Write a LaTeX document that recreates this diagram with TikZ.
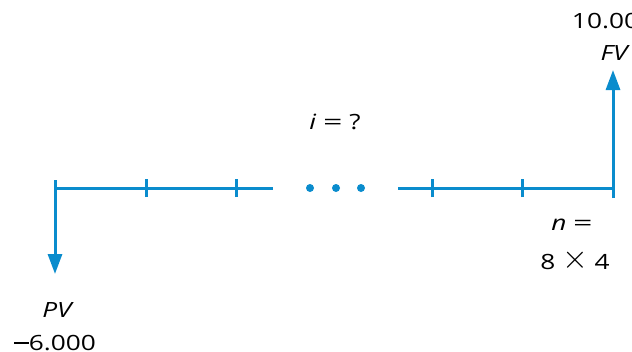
\documentclass[tikz,border=0pt]{standalone}
\usepackage{fontspec}
\setmainfont{Open Sans}[FakeStretch=1.25]
\usetikzlibrary{arrows.meta}
\definecolor{tlblue}{HTML}{0A8CCD}
\newcommand{\bigeq}{\scalebox{1.3}[1]{=}}
\newcommand{\bigtimes}{\raisebox{0.05em}{\scalebox{1.6}{\(\times\)}}}
\begin{document}
\begin{tikzpicture}[x=1pt,y=-1pt,
  tl/.style={draw=tlblue,line width=3pt},
  flow/.style={draw=tlblue,line width=3pt,-{Triangle[width=14pt,length=20pt]}},
  lbl/.style={font=\fontsize{21}{25}\selectfont,text=black,inner sep=0pt},
  dotmark/.style={circle,fill=tlblue,inner sep=0pt,minimum size=8pt}]
\useasboundingbox (0,0) rectangle (632,351);
\clip (0,0) rectangle (632,351);
% timeline points
\coordinate (p0) at (55,188);
\coordinate (p0top) at (55,180);
\coordinate (t1) at (146,188);
\coordinate (t2) at (236,188);
\coordinate (e1) at (273,188);
\coordinate (s2) at (398,188);
\coordinate (t3) at (432,188);
\coordinate (t4) at (522,188);
\coordinate (pn) at (613,188);
\coordinate (pnbot) at (613,198);
\coordinate (pvtip) at (55,274);
\coordinate (fvtip) at (613,70);
% line
\draw[tl] (p0) -- (e1);
\draw[tl] (s2) -- (pn);
\foreach \t in {t1,t2,t3,t4}{
  \draw[tl] ([yshift=-9pt]\t) -- ([yshift=9pt]\t);
}
% dots
\node[dotmark] (d1) at (310,188) {};
\node[dotmark] (d2) at (336,188) {};
\node[dotmark] (d3) at (361,188) {};
% arrows
\draw[flow] (p0top) -- (pvtip);
\draw[flow] (pnbot) -- (fvtip);
% labels
\node[lbl] (pv) at (57,310) {\itshape PV};
\node[lbl] (pvval) at (55,343) {\rule[0.3em]{0.7em}{0.1em}6.000};
\node[lbl] (fv) at (614,53) {\itshape FV};
\node[lbl] (fvval) at (613,21) {10.000};
\node[lbl] (rate) at (335,122) {\textit{i}\ \bigeq\ ?};
\node[lbl] (n1) at (572,225) {\textit{n}\ \bigeq};
\node[lbl] (n2) at (575,260) {8\ \bigtimes\ 4};
\end{tikzpicture}
\end{document}
